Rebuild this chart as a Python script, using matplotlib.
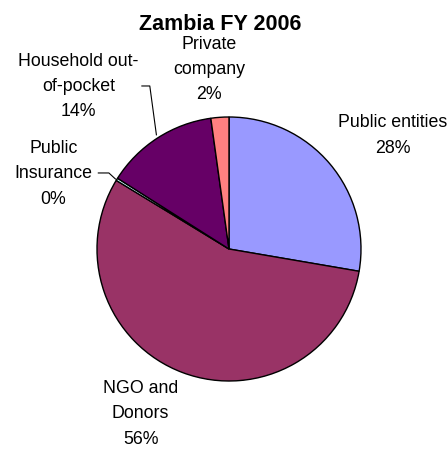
import numpy as np
import matplotlib.pyplot as plt

plt.rcParams['font.family'] = ['Liberation Sans', 'DejaVu Sans']

categories = ['Public entities', 'NGO and\nDonors', 'Public\nInsurance',
              'Household out-\nof-pocket', 'Private\ncompany']
values = [27.7, 56.0, 0.3, 13.8, 2.2]
pct_labels = ['28%', '56%', '0%', '14%', '2%']
colors = ['#9999FF', '#993366', '#CCFFFF', '#660066', '#FF8080']

# label positions (pie radius = 1)
label_pos = [(1.24, 0.86), (-0.67, -1.25), (-1.33, 0.57), (-1.14, 1.23), (-0.15, 1.36)]

fig = plt.figure(figsize=(4.48, 4.49), dpi=100)
ax = fig.add_axes([0, 0, 1, 1])

wedges, _ = ax.pie(values, colors=colors, startangle=90, counterclock=False,
                   wedgeprops=dict(edgecolor='black', linewidth=1))

for (x, y), cat, pct in zip(label_pos, categories, pct_labels):
    ax.text(x, y, cat + '\n' + pct, ha='center', va='center',
            fontsize=12.8, linespacing=1.64)

# leader lines
ax.plot([-0.66, -0.60, -0.55], [1.235, 1.235, 0.865], color='black', lw=0.8)
ax.plot([-0.99, -0.91, -0.86], [0.576, 0.576, 0.53], color='black', lw=0.8)

ax.text(-0.065, 1.70, 'Zambia FY 2006', ha='center', va='center',
        fontsize=15.5, fontweight='bold')

ax.set_xlim(-229 / 132, (448 - 229) / 132)
ax.set_ylim(-(449 - 249) / 132, 249 / 132)
ax.set_aspect('equal')
ax.axis('off')

fig.savefig('out.png', dpi=100)
